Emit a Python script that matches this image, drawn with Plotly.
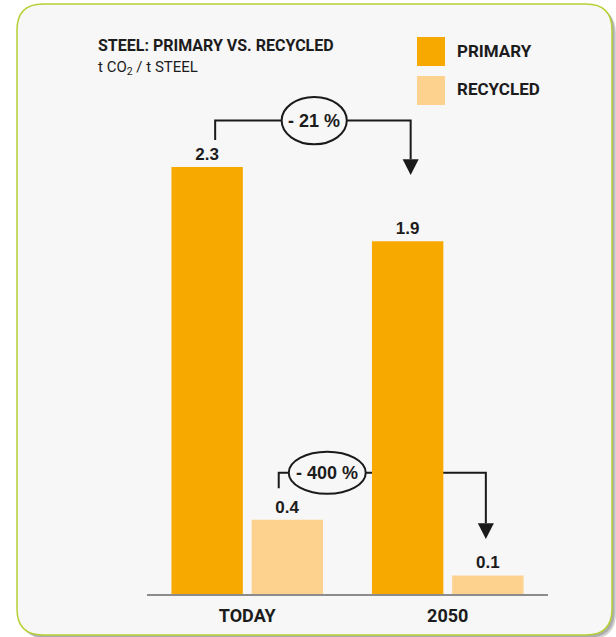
import plotly.graph_objects as go

# ---- data ----
categories = ["TODAY", "2050"]
primary = [2.3, 1.9]
recycled = [0.4, 0.1]
changes = ["- 21 %", "- 400 %"]
title = "STEEL: PRIMARY VS. RECYCLED"
subtitle = "t CO<sub>2</sub> / t STEEL"
series_names = ["PRIMARY", "RECYCLED"]

# ---- style ----
W, H = 616, 637
C_PRIM = "#F8A900"
C_REC = "#FDD28F"
C_BG = "#F7F7F7"
C_TXT = "#1c1c1c"
C_BORDER = "#B7D033"
NARROW = "Roboto, Liberation Sans, sans-serif"
SANS = "Liberation Sans, Arial, sans-serif"

def X(px):
    return px / W

def Y(py):
    return 1 - py / H

xs = list(range(len(categories)))
fig = go.Figure()
fig.add_trace(go.Bar(x=xs, y=primary, name=series_names[0], marker=dict(color=C_PRIM, line=dict(width=0)),
                     text=[f"{v:.1f}" for v in primary], textposition="outside",
                     textfont=dict(family=SANS, size=17, color=C_TXT, weight="bold"), cliponaxis=False))
fig.add_trace(go.Bar(x=xs, y=recycled, name=series_names[1], marker=dict(color=C_REC, line=dict(width=0)),
                     text=[f"{v:.1f}" for v in recycled], textposition="outside",
                     textfont=dict(family=SANS, size=17, color=C_TXT, weight="bold"), cliponaxis=False))

shapes = []
# card shadow + card
def rrect(x0, y0, x1, y1, r):
    return (f"M {X(x0+r)},{Y(y0)} L {X(x1-r)},{Y(y0)} Q {X(x1)},{Y(y0)} {X(x1)},{Y(y0+r)} "
            f"L {X(x1)},{Y(y1-r)} Q {X(x1)},{Y(y1)} {X(x1-r)},{Y(y1)} L {X(x0+r)},{Y(y1)} "
            f"Q {X(x0)},{Y(y1)} {X(x0)},{Y(y1-r)} L {X(x0)},{Y(y0+r)} Q {X(x0)},{Y(y0)} {X(x0+r)},{Y(y0)} Z")
for off, col in [(4, "#D4D4D4"), (2.5, "#ADADAD")]:
    shapes.append(dict(type="path", xref="paper", yref="paper", layer="below",
                       path=rrect(17 + off, 4 + off, 612 + off, 635 + off, 26),
                       fillcolor=col, line=dict(width=0)))
shapes.append(dict(type="path", xref="paper", yref="paper", layer="below",
                   path=rrect(17, 4, 612, 635, 26), fillcolor=C_BG,
                   line=dict(color=C_BORDER, width=1.5)))

# change arrows (data coordinates, anchored to bar values)
off = 0.2  # bar offset within group
arrows = [
    dict(xs=xs[0] - off + 0.04, ys=primary[0] + 0.145, yl=primary[0] + 0.25,
         xe=xs[1] - off + 0.015, yt=primary[0] - 0.043, el=(0.334, 0.325, 0.255)),
    dict(xs=xs[0] + off - 0.043, ys=recycled[0] + 0.17, yl=recycled[0] + 0.253,
         xe=xs[1] + off - 0.01, yt=recycled[1] + 0.196, el=(0.399, 0.384, 0.227)),
]
line_style = dict(color="#1a1a1a", width=2)
for a in arrows:
    head = 0.085
    shapes.append(dict(type="path", xref="x", yref="y", layer="below",
                       path=f"M {a['xs']},{a['ys']} L {a['xs']},{a['yl']} L {a['xe']},{a['yl']} L {a['xe']},{a['yt'] + head}",
                       line=line_style))
    hw = 0.04
    shapes.append(dict(type="path", xref="x", yref="y", layer="below",
                       path=f"M {a['xe']-hw},{a['yt'] + head} L {a['xe']+hw},{a['yt'] + head} L {a['xe']},{a['yt']} Z",
                       fillcolor="#1a1a1a", line=dict(width=0)))
for a in arrows:
    xc, w, h = a["el"]
    yc = a["yl"]
    shapes.append(dict(type="circle", xref="x", yref="y", layer="below",
                       x0=xc - w / 2, x1=xc + w / 2, y0=yc - h / 2, y1=yc + h / 2,
                       fillcolor=C_BG, line=line_style))

# legend boxes
legend_colors = [C_PRIM, C_REC]
legend_y = [(37, 66), (76, 105)]
for col, (t, b) in zip(legend_colors, legend_y):
    shapes.append(dict(type="rect", xref="paper", yref="paper", x0=X(417), x1=X(445), y0=Y(b), y1=Y(t),
                       fillcolor=col, line=dict(width=0)))

annotations = []
for name, (t, b) in zip(series_names, legend_y):
    annotations.append(dict(xref="paper", yref="paper", x=X(455), y=Y((t + b) / 2 - 1), xanchor="left", yanchor="middle",
                            text=name, showarrow=False, font=dict(family=NARROW, size=17, color=C_TXT, weight="bold")))
for a, txt in zip(arrows, changes):
    annotations.append(dict(xref="x", yref="y", x=a["el"][0], y=a["yl"], text=txt, showarrow=False,
                            font=dict(family=SANS, size=18, color=C_TXT, weight="bold")))
annotations.append(dict(xref="paper", yref="paper", x=X(96), y=Y(45), xanchor="left", yanchor="middle",
                        text=title, showarrow=False, font=dict(family=NARROW, size=16, color=C_TXT, weight="bold")))
annotations.append(dict(xref="paper", yref="paper", x=X(96), y=Y(68), xanchor="left", yanchor="middle",
                        text=subtitle, showarrow=False, font=dict(family=NARROW, size=15, color=C_TXT)))

y_top_px, y_bot_px = 80, 594
scale = (y_bot_px - 167) / primary[0]
fig.update_layout(
    width=W, height=H, margin=dict(l=0, r=0, t=0, b=0),
    paper_bgcolor="white", plot_bgcolor="rgba(0,0,0,0)",
    barmode="group", bargap=0.2, bargroupgap=0.11, showlegend=False,
    shapes=shapes, annotations=annotations,
    xaxis=dict(domain=[X(147), X(548)], range=[-0.5, 1.5], tickvals=xs, ticktext=categories,
               showline=True, linecolor="#8C8C8C", linewidth=2, showgrid=False, zeroline=False,
               ticks="outside", ticklen=4, tickcolor="rgba(0,0,0,0)",
               tickfont=dict(family=NARROW, size=18, color=C_TXT, weight="bold"), fixedrange=True),
    yaxis=dict(domain=[Y(y_bot_px), Y(y_top_px)], range=[0, (y_bot_px - y_top_px) / scale],
               showticklabels=False, showgrid=False, zeroline=False, showline=False, fixedrange=True),
)
fig.write_html("out.html", config={"displayModeBar": False},
               post_script="document.body.style.margin='0';document.body.style.padding='0';")
